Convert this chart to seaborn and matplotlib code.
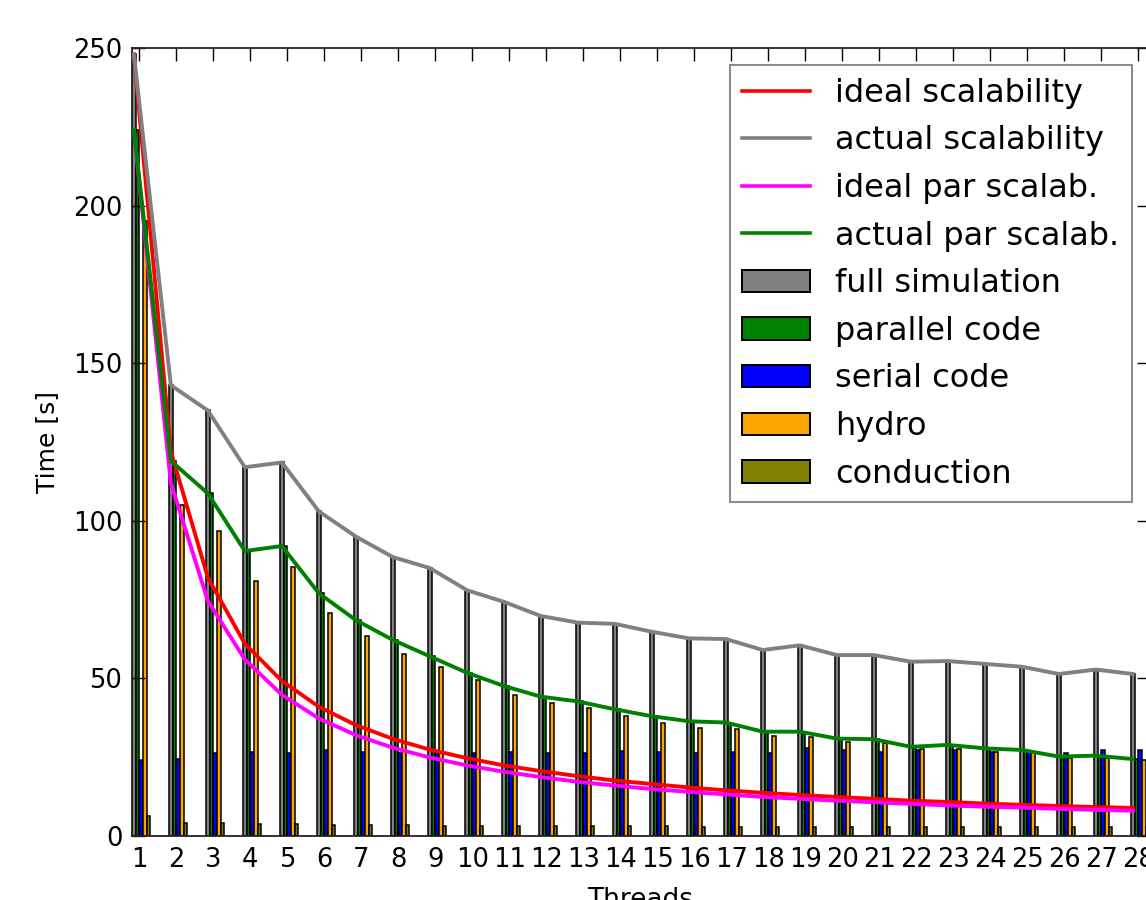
import numpy as np
import matplotlib
matplotlib.use("Agg")
import matplotlib.pyplot as plt
import seaborn as sns
from matplotlib.patches import Patch
from matplotlib.lines import Line2D

threads = list(range(1, 29))
full_sim = [248, 143, 135, 117, 118.5, 103, 95, 88.5, 85, 78, 74.3, 69.8, 67.7, 67.3,
            64.8, 62.7, 62.5, 59, 60.5, 57.4, 57.4, 55.3, 55.5, 54.6, 53.7, 51.4, 52.8, 51.4]
parallel = [224, 119, 108.7, 90.4, 92, 77, 68.5, 62.2, 57, 51.8, 47.6, 44.2, 42.7, 40.2,
            38, 36.4, 36, 33.1, 33.1, 30.9, 30.7, 28.3, 28.9, 27.8, 27.3, 25.2, 25.5, 24.4]
serial = [24.1, 24.3, 26.2, 26.7, 26.2, 27.3, 26.7, 26.2, 26.5, 26.2, 26.5, 26.2, 26.2, 27.0,
          26.8, 26.2, 26.5, 26.2, 27.8, 27.3, 26.7, 27.3, 27.3, 26.7, 26.7, 26.2, 27.3, 27.3]
hydro = [195, 105, 96.8, 81, 85.2, 70.9, 63.5, 57.7, 53.7, 49.5, 44.7, 42.3, 40.7, 38.1,
         35.9, 34.4, 33.8, 31.8, 31.5, 29.9, 29.4, 27.5, 27.6, 26.7, 26.2, 24.9, 24.6, 24.1]
conduction = [6.3, 4.2, 4.0, 3.8, 3.7, 3.5, 3.4, 3.4, 3.3, 3.3, 3.2, 3.2, 3.1, 3.1,
              3.1, 3.0, 3.0, 3.0, 3.0, 3.0, 3.0, 3.0, 3.0, 3.0, 3.0, 3.0, 3.0, 3.0]
ideal = [248, 122, 82, 61, 49.2, 41, 35.2, 30.8, 27.4, 24.7, 22.4, 20.6, 19.0, 17.6,
         16.5, 15.4, 14.5, 13.7, 13.0, 12.4, 11.8, 11.2, 10.8, 10.3, 9.9, 9.5, 9.2, 8.9]
ideal_par = [224, 112, 74.6, 56, 44.8, 37.3, 32, 28, 24.9, 22.4, 20.4, 18.7, 17.2, 16.0,
             14.9, 14.0, 13.2, 12.4, 11.8, 11.2, 10.7, 10.2, 9.7, 9.3, 9.0, 8.6, 8.3, 8.0]

line_labels = ["ideal scalability", "actual scalability", "ideal par scalab.", "actual par scalab."]
line_colors = ["red", "gray", "magenta", "green"]
bar_labels = ["full simulation", "parallel code", "serial code", "hydro", "conduction"]
bar_colors = ["gray", "green", "blue", "orange", "olive"]

plt.rcParams['font.family'] = ['DejaVu Sans']
fig = plt.figure(figsize=(11.46, 9.0), dpi=100)
fig.patch.set_facecolor("white")
ax = fig.add_axes([132 / 1146, 64 / 900, 1017 / 1146, 788 / 900])

x = np.array(threads, dtype=float)
bar_series = [full_sim, parallel, serial, hydro, conduction]
offsets = [-0.15, -0.05, 0.05, 0.15, 0.25]
for vals, col, off in zip(bar_series, bar_colors, offsets):
    sns.barplot(x=x + off, y=vals, native_scale=True, orient="x", width=0.1,
                color=col, saturation=1, edgecolor="black", linewidth=1.1,
                errorbar=None, ax=ax)

line_series = [ideal, full_sim, ideal_par, parallel]
for vals, col in zip(line_series, line_colors):
    sns.lineplot(x=x - 0.15, y=vals, color=col, linewidth=2.8, ax=ax, zorder=3)

ax.set_xlim(0.8, 0.8 + 1017 / 37.0)
ax.set_ylim(0, 250)
ax.set_xticks(threads)
ax.set_xticklabels([str(t) for t in threads])
ax.set_yticks([0, 50, 100, 150, 200, 250])
ax.tick_params(axis="both", which="major", direction="in", length=9, width=1,
               top=True, right=True, labelsize=18.5, color="black")
ax.tick_params(axis="x", pad=8)
ax.tick_params(axis="y", pad=7)
for s in ax.spines.values():
    s.set_linewidth(1.3)
    s.set_color("#222222")
ax.set_facecolor("white")
ax.set_ylabel("Time [s]", fontsize=18, labelpad=10)
ax.set_xlabel("Threads", fontsize=19, labelpad=10)

handles = [Line2D([0], [0], color=c, lw=2.6) for c in line_colors]
handles += [Patch(facecolor=c, edgecolor="black", linewidth=1.4) for c in bar_colors]
labels = line_labels + bar_labels
leg = ax.legend(handles, labels, loc="upper right",
                bbox_to_anchor=(1132 / 1146, 1 - 65 / 900), bbox_transform=fig.transFigure,
                borderaxespad=0, fontsize=23, labelspacing=0.52, handlelength=2.1,
                handletextpad=0.8, borderpad=0.4, fancybox=False, framealpha=1)
leg.get_frame().set_edgecolor("0.55")
leg.get_frame().set_linewidth(1.5)

fig.savefig("out.png", dpi=100, facecolor="white")
